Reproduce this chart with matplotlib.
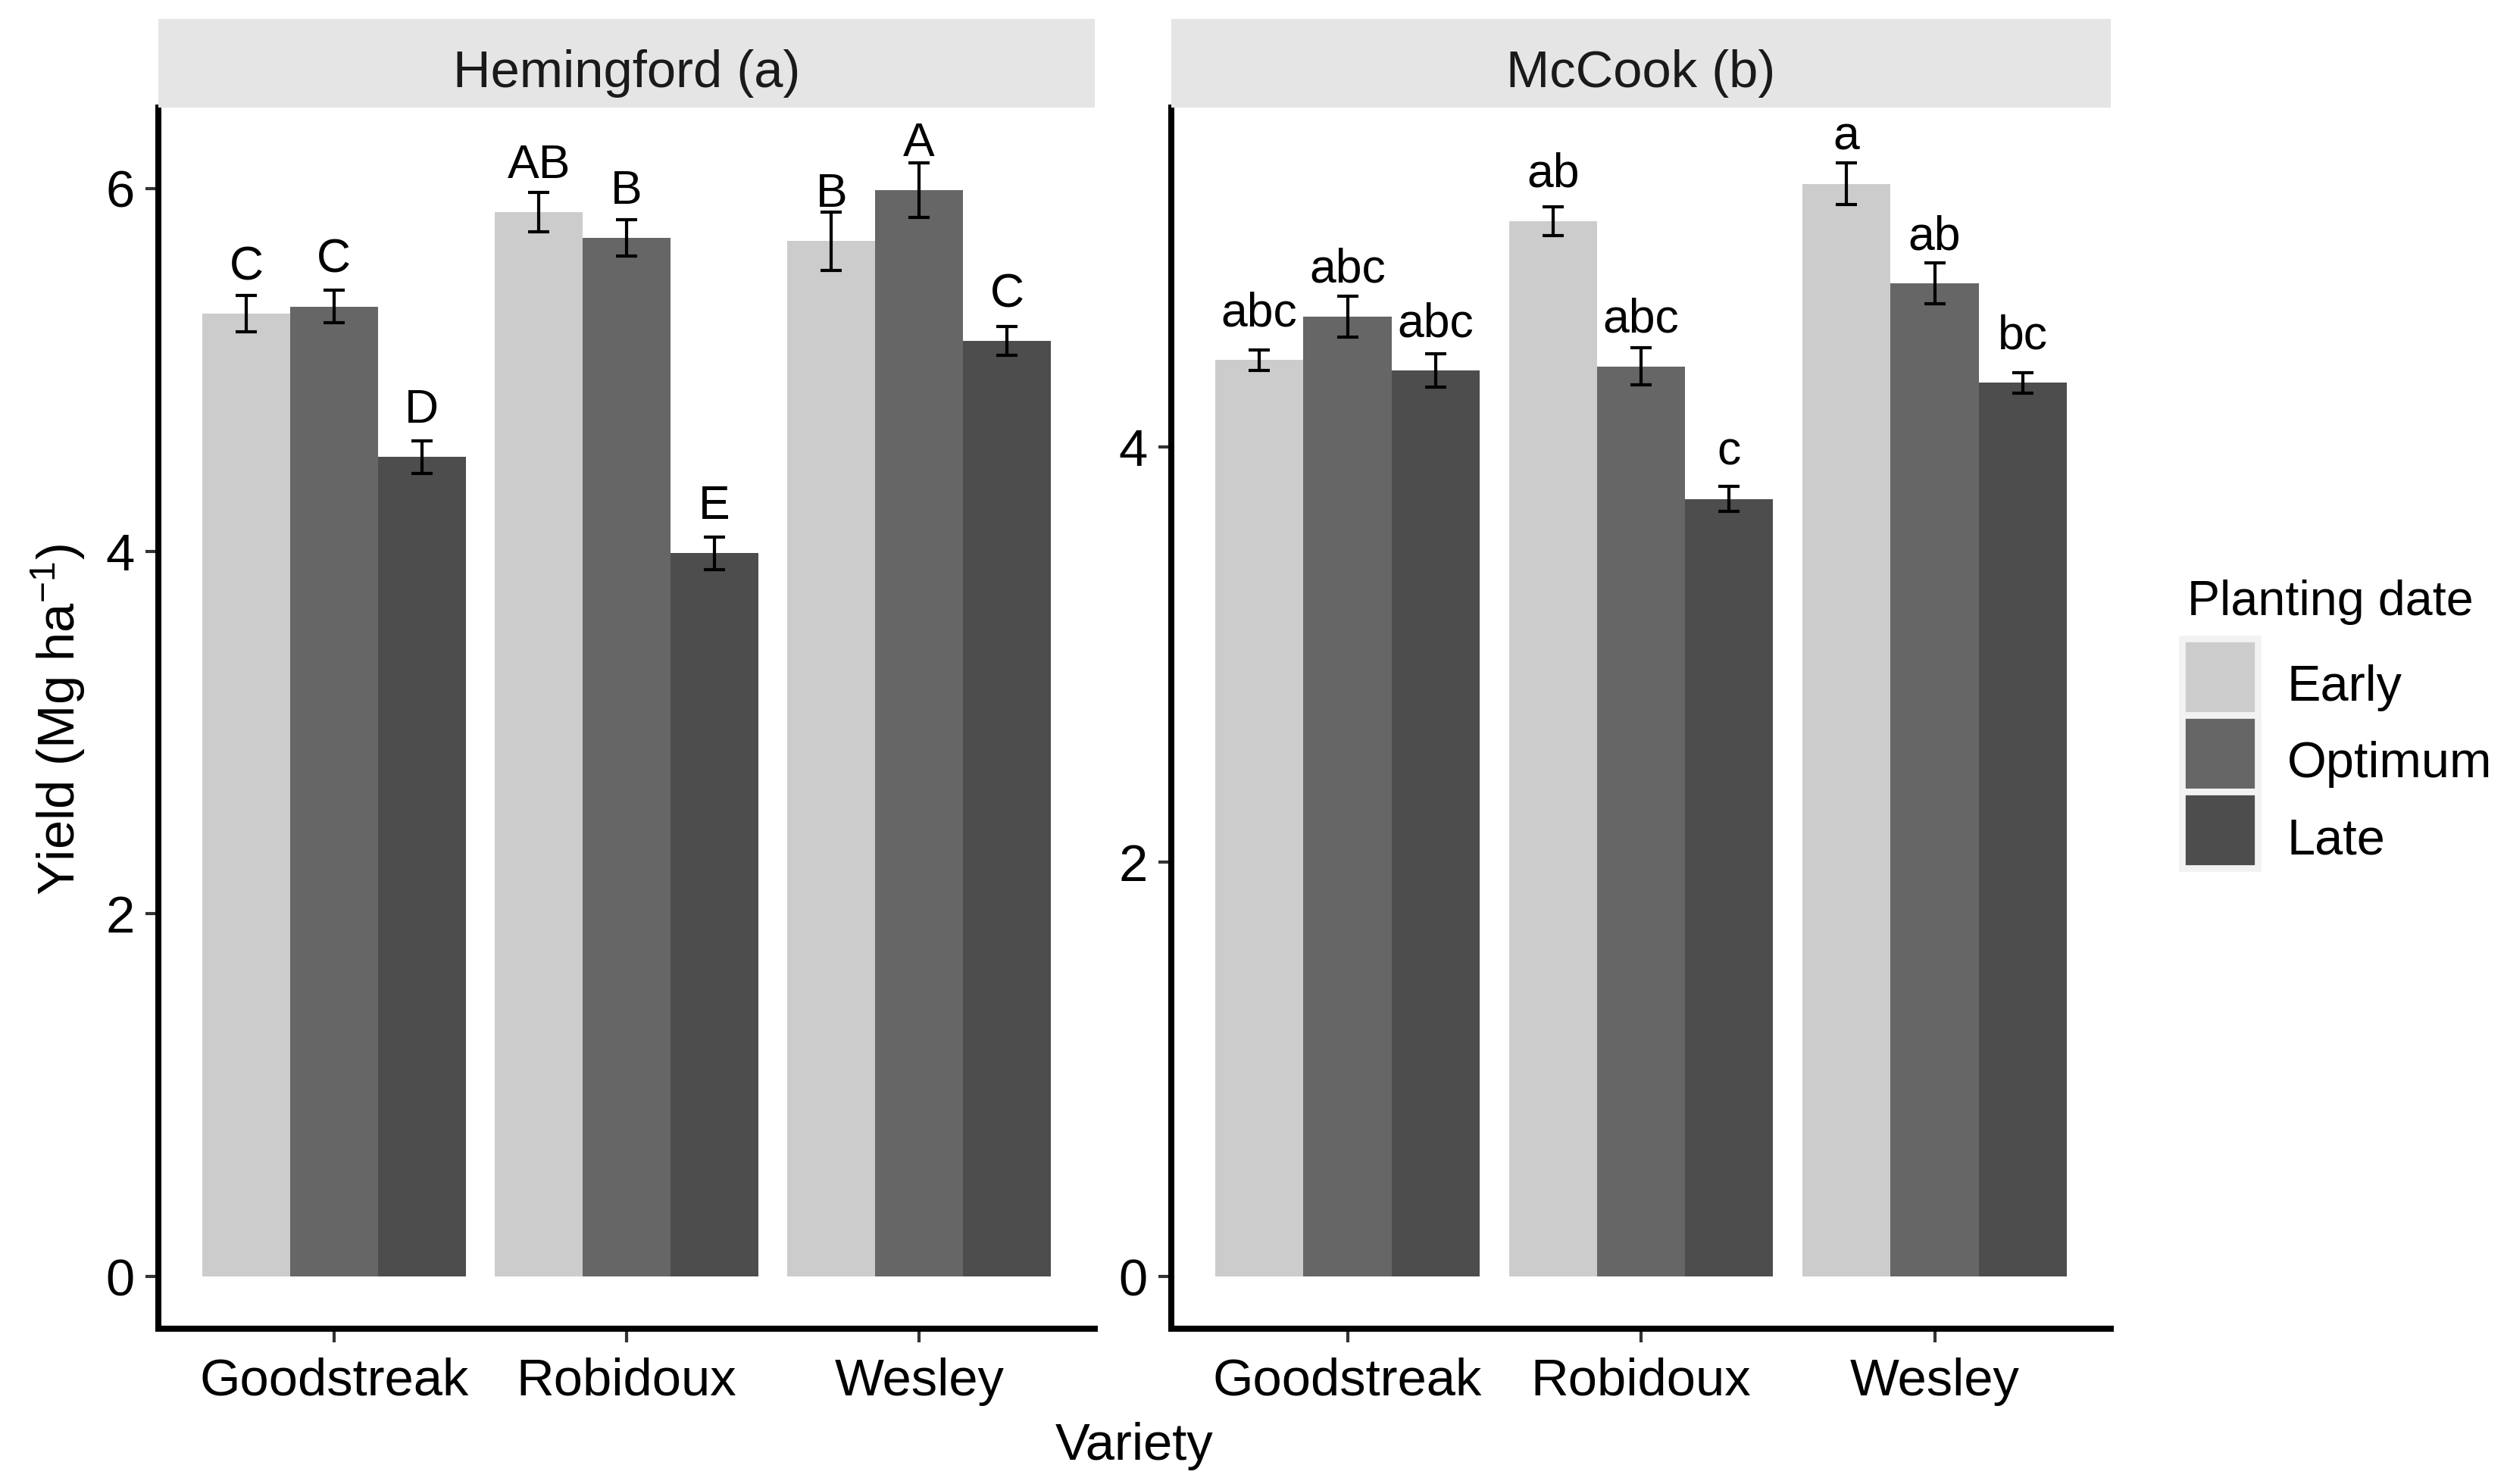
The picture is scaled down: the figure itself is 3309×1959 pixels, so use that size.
import numpy as np
import matplotlib.pyplot as plt
from matplotlib.patches import Patch, Rectangle
from matplotlib.legend_handler import HandlerPatch

plt.rcParams['font.family'] = ['Liberation Sans', 'DejaVu Sans']
plt.rcParams['mathtext.fontset'] = 'custom'
plt.rcParams['mathtext.rm'] = 'Liberation Sans'
plt.rcParams['mathtext.it'] = 'Liberation Sans:italic'
plt.rcParams['mathtext.bf'] = 'Liberation Sans:bold'

# ---- data ----
varieties = ["Goodstreak", "Robidoux", "Wesley"]
dates = ["Early", "Optimum", "Late"]
colors = ["#cccccc", "#666666", "#4d4d4d"]

# Hemingford (a)
hem_early = [5.31, 5.87, 5.71]
hem_opt = [5.35, 5.73, 5.99]
hem_late = [4.52, 3.99, 5.16]
hem_early_se = [0.10, 0.11, 0.16]
hem_opt_se = [0.09, 0.10, 0.15]
hem_late_se = [0.09, 0.09, 0.08]
hem_early_let = ["C", "AB", "B"]
hem_opt_let = ["C", "B", "A"]
hem_late_let = ["D", "E", "C"]

# McCook (b)
mcc_early = [4.42, 5.09, 5.27]
mcc_opt = [4.63, 4.39, 4.79]
mcc_late = [4.37, 3.75, 4.31]
mcc_early_se = [0.05, 0.07, 0.10]
mcc_opt_se = [0.10, 0.09, 0.10]
mcc_late_se = [0.08, 0.06, 0.05]
mcc_early_let = ["abc", "ab", "a"]
mcc_opt_let = ["abc", "abc", "ab"]
mcc_late_let = ["abc", "c", "bc"]

W, H = 3309, 1959
fig = plt.figure(figsize=(W / 300, H / 300), dpi=300)


def fx(px):
    return px / W


def fy(py):
    return 1 - py / H


panels = [
    dict(title="Hemingford (a)", left=209, right=1445, ylim=(-0.286, 6.447), yticks=[0, 2, 4, 6],
         means=[hem_early, hem_opt, hem_late], ses=[hem_early_se, hem_opt_se, hem_late_se],
         lets=[hem_early_let, hem_opt_let, hem_late_let]),
    dict(title="McCook (b)", left=1546, right=2786, ylim=(-0.25, 5.638), yticks=[0, 2, 4],
         means=[mcc_early, mcc_opt, mcc_late], ses=[mcc_early_se, mcc_opt_se, mcc_late_se],
         lets=[mcc_early_let, mcc_opt_let, mcc_late_let]),
]

top, bottom = 142, 1753.5
strip_top = 24.5
bw = 0.3
x = np.arange(len(varieties))

for p in panels:
    ax = fig.add_axes([fx(p["left"]), fy(bottom), fx(p["right"] - p["left"]), (bottom - top) / H])
    for i, d in enumerate(dates):
        xi = x + (i - 1) * bw
        ax.bar(xi, p["means"][i], width=bw, color=colors[i], linewidth=0)
        ax.errorbar(xi, p["means"][i], yerr=p["ses"][i], fmt="none", ecolor="black",
                    elinewidth=1, capsize=3.25, capthick=1)
        for xx, m, lab in zip(xi, p["means"][i], p["lets"][i]):
            ax.annotate(lab, (xx, m), xytext=(0, 10.8), textcoords="offset points",
                        ha="center", va="baseline", fontsize=15)
    ax.set_xlim(-0.6, 2.6)
    ax.set_ylim(*p["ylim"])
    ax.set_xticks(x)
    ax.set_xticklabels(varieties)
    ax.set_yticks(p["yticks"])
    ax.tick_params(direction="out", length=4.2, width=1, color="#333333",
                   labelsize=16.5, labelcolor="black")
    ax.tick_params(axis="x", pad=5)
    ax.tick_params(axis="y", pad=3.25)
    for s in ["top", "right"]:
        ax.spines[s].set_visible(False)
    for s in ["left", "bottom"]:
        ax.spines[s].set_linewidth(1.92)
        ax.spines[s].set_capstyle("projecting")

    # facet strip
    sax = fig.add_axes([fx(p["left"]), fy(top), fx(p["right"] - p["left"]), (top - strip_top) / H])
    sax.set_facecolor("#e5e5e5")
    sax.set_xticks([])
    sax.set_yticks([])
    for s in sax.spines.values():
        s.set_visible(False)
    sax.text(0.5, 0.227, p["title"], ha="center", va="baseline", fontsize=16.5,
             color="#1a1a1a", transform=sax.transAxes)

fig.text(fx(1497), fy(1927), "Variety", ha="center", va="baseline", fontsize=16.5)
fig.text(fx(99), fy(950), "Yield (Mg ha$^{-1}$)", rotation=90, rotation_mode="anchor",
         ha="center", va="baseline", fontsize=16.5)

# legend (keys nudged up a little so labels sit like ggplot's)
key_shift = 2.56  # points


def key_rect(legend, orig_handle, xdescent, ydescent, width, height, fontsize):
    return Rectangle((-xdescent, -ydescent + key_shift), width, height)


handles = [Patch(facecolor=c, edgecolor="#f2f2f2", linewidth=2.1, label=d)
           for c, d in zip(colors, dates)]
fig.legend(handles=handles, loc="upper left", bbox_to_anchor=(fx(2880), fy(853.3)),
           frameon=False, fontsize=16, handlelength=1.5, handleheight=1.954,
           labelspacing=0, handletextpad=0.585, borderpad=0, borderaxespad=0,
           handler_map={Patch: HandlerPatch(patch_func=key_rect)})
fig.text(fx(2887), fy(812), "Planting date", ha="left", va="baseline", fontsize=15.5)

fig.savefig("out.png", dpi=300)
